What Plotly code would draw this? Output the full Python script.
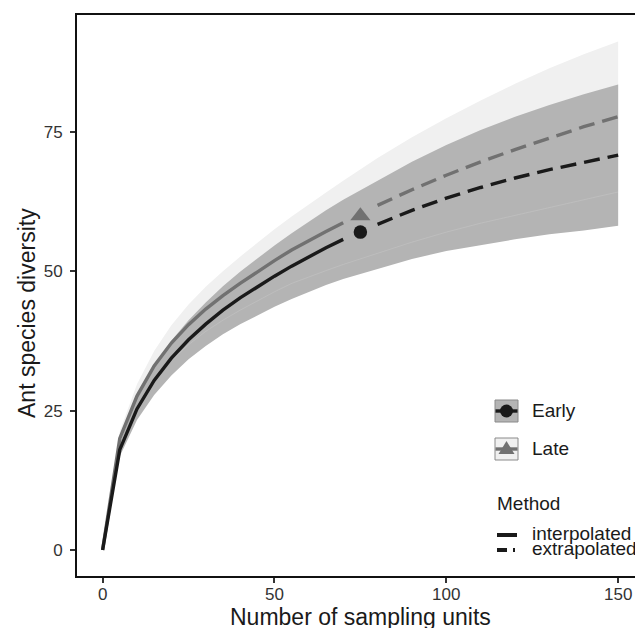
import plotly.graph_objects as go

# ---------------- data ----------------
x_knots = [0, 5, 10, 15, 20, 25, 30, 35, 40, 45, 50, 55, 60, 65, 70, 75,
           80, 90, 100, 110, 120, 130, 140, 150]

early_est = [0, 18.0, 25.3, 30.4, 34.4, 37.7, 40.5, 43.0, 45.2, 47.2, 49.1, 50.9,
             52.6, 54.2, 55.7, 57.0, 58.4, 60.9, 63.1, 65.0, 66.7, 68.2, 69.5, 70.8]
early_lo = [0, 16.8, 23.3, 27.8, 31.3, 34.2, 36.6, 38.7, 40.5, 42.1, 43.6, 45.0,
            46.3, 47.5, 48.6, 49.5, 50.5, 52.2, 53.6, 54.7, 55.7, 56.6, 57.3, 58.15]
early_hi = [0, 19.2, 27.3, 33.0, 37.5, 41.2, 44.4, 47.3, 49.9, 52.3, 54.6, 56.8,
            58.9, 60.9, 62.8, 64.5, 66.2, 69.6, 72.6, 75.3, 77.7, 79.8, 81.7, 83.45]

late_est = [0, 20.0, 27.6, 33.0, 37.1, 40.4, 43.2, 45.6, 47.8, 49.9, 51.9, 53.8,
            55.5, 57.1, 58.7, 59.9, 61.8, 64.6, 67.2, 69.6, 71.8, 73.9, 75.9, 77.7]
late_lo = [0, 18.7, 25.5, 30.3, 33.9, 36.8, 39.2, 41.2, 43.0, 44.7, 46.3, 47.8,
           49.0, 50.1, 51.2, 52.2, 53.3, 55.2, 57.0, 58.6, 60.0, 61.4, 62.9, 64.2]
late_hi = [0, 21.3, 29.7, 35.7, 40.3, 44.0, 47.2, 50.0, 52.6, 55.1, 57.5, 59.8,
           62.0, 64.1, 66.2, 68.2, 70.3, 74.0, 77.4, 80.6, 83.6, 86.4, 88.9, 91.2]

observed_t = 75          # reference sample size (observed point)
x_ticks = [0, 50, 100, 150]
y_ticks = [0, 25, 50, 75]
groups = ["Early", "Late"]
methods = ["interpolated", "extrapolated"]

# ---------------- styling ----------------
FONT = "Liberation Sans, Arial, Helvetica, sans-serif"
C_EARLY = "#1A1A1A"
C_LATE = "#717171"
F_EARLY = "#B4B4B4"
F_LATE = "#F0F0F0"
LW = 3.4
DASH = "16px,8px"

i_obs = x_knots.index(observed_t)


def seg(vals, part):
    if part == "interp":
        return x_knots[:i_obs], vals[:i_obs]
    return x_knots[i_obs + 1:], vals[i_obs + 1:]


fig = go.Figure()

# ribbons: Late (light) underneath, Early (dark) on top
fig.add_trace(go.Scatter(x=x_knots, y=late_lo, mode="lines", line=dict(width=0),
                         hoverinfo="skip", showlegend=False))
fig.add_trace(go.Scatter(x=x_knots, y=late_hi, mode="lines", line=dict(width=0),
                         fill="tonexty", fillcolor=F_LATE, hoverinfo="skip", showlegend=False))
fig.add_trace(go.Scatter(x=x_knots, y=early_lo, mode="lines", line=dict(width=0),
                         hoverinfo="skip", showlegend=False))
fig.add_trace(go.Scatter(x=x_knots, y=early_hi, mode="lines", line=dict(width=0),
                         fill="tonexty", fillcolor=F_EARLY, hoverinfo="skip", showlegend=False))
# faint seam where the hidden Late lower bound lies under the Early ribbon
fig.add_trace(go.Scatter(x=x_knots, y=late_lo, mode="lines",
                         line=dict(width=0.5, color="rgba(255,255,255,0.25)"),
                         hoverinfo="skip", showlegend=False))

# curves
for est, col in [(late_est, C_LATE), (early_est, C_EARLY)]:
    xi, yi = seg(est, "interp")
    fig.add_trace(go.Scatter(x=xi, y=yi, mode="lines", line=dict(color=col, width=LW),
                             showlegend=False))
    xe, ye = seg(est, "extrap")
    fig.add_trace(go.Scatter(x=xe, y=ye, mode="lines",
                             line=dict(color=col, width=LW, dash=DASH), showlegend=False))

# observed points
fig.add_trace(go.Scatter(x=[observed_t], y=[late_est[i_obs]], mode="markers",
                         marker=dict(symbol="triangle-up", size=17.5, color=C_LATE),
                         showlegend=False))
fig.add_trace(go.Scatter(x=[observed_t], y=[early_est[i_obs]], mode="markers",
                         marker=dict(symbol="circle", size=13.5, color=C_EARLY),
                         showlegend=False))

# ---------------- layout geometry ----------------
W, H = 635, 628
L_, R_, T_, B_ = 77, 635, 15, 576


def px(xp):
    return (xp - L_) / (R_ - L_)


def py(yp):
    return (B_ - yp) / (B_ - T_)


shapes = []
annotations = []

# legend: group keys
for name, (y0, y1), fillc, col in [("Early", (400, 422), F_EARLY, C_EARLY),
                                   ("Late", (438, 460), F_LATE, C_LATE)]:
    yc = (y0 + y1) / 2
    shapes.append(dict(type="rect", xref="paper", yref="paper",
                       x0=px(495), x1=px(518), y0=py(y1), y1=py(y0),
                       fillcolor=fillc, line=dict(color="#8A8A8A", width=1)))
    shapes.append(dict(type="line", xref="paper", yref="paper",
                       x0=px(495.5), x1=px(517.5), y0=py(yc), y1=py(yc),
                       line=dict(color=col, width=LW)))
    if name == "Early":
        shapes.append(dict(type="circle", xref="paper", yref="paper",
                           x0=px(506.5 - 6.5), x1=px(506.5 + 6.5),
                           y0=py(yc + 6.5), y1=py(yc - 6.5),
                           fillcolor=col, line=dict(width=0)))
    else:
        path = "M {a},{b} L {c},{b} L {d},{e} Z".format(
            a=px(498.5), b=py(yc + 5), c=px(514.5), d=px(506.5), e=py(yc - 8))
        shapes.append(dict(type="path", xref="paper", yref="paper", path=path,
                           fillcolor=col, line=dict(width=0)))
    annotations.append(dict(text=name, xref="paper", yref="paper", x=px(530), y=py(yc - 0.5),
                            xanchor="left", yanchor="middle", showarrow=False,
                            font=dict(family=FONT, size=19, color="#1A1A1A")))

# legend: method
annotations.append(dict(text="Method", xref="paper", yref="paper", x=px(495), y=py(504),
                        xanchor="left", yanchor="middle", showarrow=False,
                        font=dict(family=FONT, size=19, color="#1A1A1A")))
for m, yc in zip(methods, [534.5, 549.5]):
    if m == "interpolated":
        shapes.append(dict(type="line", xref="paper", yref="paper",
                           x0=px(497), x1=px(517), y0=py(yc + 0.5), y1=py(yc + 0.5),
                           line=dict(color=C_EARLY, width=4)))
    else:
        shapes.append(dict(type="line", xref="paper", yref="paper",
                           x0=px(497), x1=px(507), y0=py(yc + 0.5), y1=py(yc + 0.5),
                           line=dict(color=C_EARLY, width=4)))
        shapes.append(dict(type="line", xref="paper", yref="paper",
                           x0=px(513), x1=px(515), y0=py(yc + 0.5), y1=py(yc + 0.5),
                           line=dict(color=C_EARLY, width=4)))
    annotations.append(dict(text=m, xref="paper", yref="paper", x=px(530), y=py(yc - 1),
                            xanchor="left", yanchor="middle", showarrow=False,
                            font=dict(family=FONT, size=19, color="#1A1A1A")))

# x tick labels (placed as text just under the ticks)
for v in x_ticks:
    annotations.append(dict(text=str(v), xref="x", yref="paper", x=v, y=py(594.5),
                            xanchor="center", yanchor="middle", showarrow=False,
                            font=dict(family=FONT, size=17, color="#333333")))

# axis titles
annotations.append(dict(text="Number of sampling units", xref="paper", yref="paper",
                        x=px(360), y=py(617), xanchor="center", yanchor="middle",
                        showarrow=False, font=dict(family=FONT, size=23, color="#1A1A1A")))
annotations.append(dict(text="Ant species diversity", xref="paper", yref="paper",
                        x=px(27), y=py(313), xanchor="center", yanchor="middle",
                        textangle=-90, showarrow=False,
                        font=dict(family=FONT, size=23, color="#1A1A1A")))

fig.update_layout(
    width=W, height=H,
    margin=dict(l=L_, r=W - R_, t=T_, b=H - B_, pad=0),
    paper_bgcolor="white", plot_bgcolor="white",
    showlegend=False,
    shapes=shapes, annotations=annotations,
    font=dict(family=FONT),
)
fig.update_xaxes(range=[-7.45, 154.9], tickvals=x_ticks, showticklabels=False,
                 showgrid=False, zeroline=False, showline=True, linecolor="#111111",
                 linewidth=2, mirror=True, ticks="outside", ticklen=5, tickwidth=2,
                 tickcolor="#333333")
fig.update_yaxes(range=[-4.66, 95.93], tickvals=y_ticks, ticktext=[str(v) for v in y_ticks],
                 showgrid=False, zeroline=False, showline=True, linecolor="#111111",
                 linewidth=2, ticks="outside", ticklen=5, tickwidth=2,
                 tickcolor="#333333", ticklabelstandoff=4,
                 tickfont=dict(family=FONT, size=17, color="#333333"))

fig.write_html("out.html", config={"displayModeBar": False},
               post_script="document.body.style.margin='0';document.body.style.overflow='hidden';")
